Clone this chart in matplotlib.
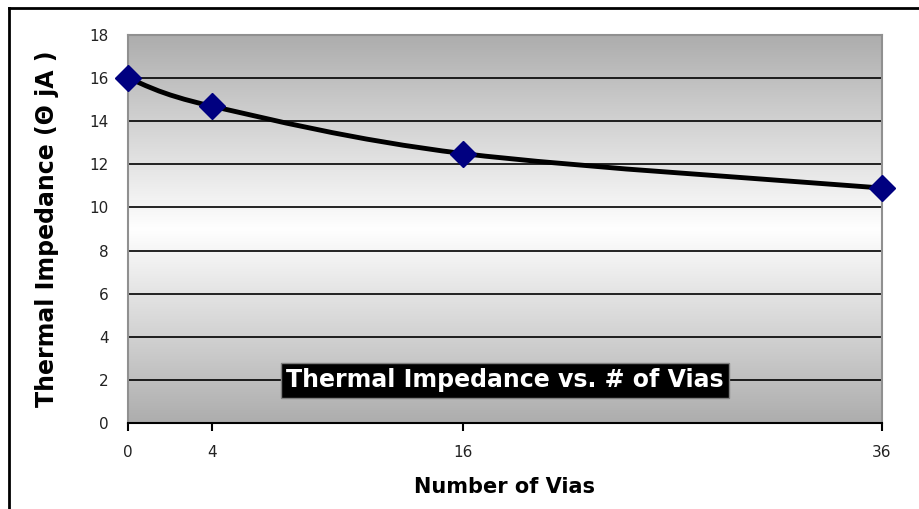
import matplotlib.pyplot as plt
import numpy as np
from matplotlib.colors import LinearSegmentedColormap
from matplotlib.path import Path
from matplotlib.patches import PathPatch

# data
vias = [0, 4, 16, 36]
impedance = [16.0, 14.7, 12.5, 10.9]
x_ticks = [0, 4, 16, 36]
y_ticks = [0, 2, 4, 6, 8, 10, 12, 14, 16, 18]

fig = plt.figure(figsize=(9.2, 5.09), dpi=100)
ax = fig.add_axes([128 / 920, 1 - 423 / 509, (882 - 128) / 920, (423 - 35) / 509])

# grey-white-grey gradient background of the plot area
cmap = LinearSegmentedColormap.from_list('bg', ['#ffffff', '#adadad'])
grad = np.abs(np.linspace(-1, 1, 256)).reshape(-1, 1)
ax.imshow(grad, cmap=cmap, vmin=0, vmax=1, aspect='auto',
          extent=[0, 36, 0, 18], zorder=0, interpolation='bicubic')

for y in y_ticks[1:-1]:
    ax.axhline(y, color='black', lw=1.2, zorder=1)

# smoothed line through the points (Excel style bezier)
pts = np.column_stack([vias, impedance])
ext = np.vstack([pts[0], pts, pts[-1]])
verts = [tuple(pts[0])]
codes = [Path.MOVETO]
for i in range(len(pts) - 1):
    p0, p1, p2, p3 = ext[i], ext[i + 1], ext[i + 2], ext[i + 3]
    verts += [tuple(p1 + (p2 - p0) / 6), tuple(p2 - (p3 - p1) / 6), tuple(p2)]
    codes += [Path.CURVE4] * 3
ax.add_patch(PathPatch(Path(verts, codes), facecolor='none', edgecolor='black',
                       lw=3.5, zorder=2))
ax.plot(vias, impedance, linestyle='none', marker='D', ms=13,
        color='#000080', zorder=3, clip_on=False)

ax.set_xlim(0, 36)
ax.set_ylim(0, 18)
ax.set_xticks(x_ticks)
ax.set_yticks(y_ticks)
ax.tick_params(axis='x', length=6, width=1.5, pad=10, labelsize=11, labelcolor='#222222')
ax.tick_params(axis='y', length=0, pad=14, labelsize=11, labelcolor='#222222')
for s in ['top', 'right', 'left']:
    ax.spines[s].set_color('#909090')
    ax.spines[s].set_linewidth(1.5)
ax.spines['bottom'].set_color('black')
ax.spines['bottom'].set_linewidth(1.5)

ax.set_xlabel('Number of Vias', fontsize=15, fontweight='bold', labelpad=12)
ax.set_ylabel('Thermal Impedance (Θ jA )', fontsize=17, fontweight='bold', labelpad=22)

ax.text(0.5, 0.11, 'Thermal Impedance vs. # of Vias', transform=ax.transAxes,
        ha='center', va='center', color='white', fontsize=17, fontweight='bold',
        bbox=dict(facecolor='black', edgecolor='#808080', pad=4), zorder=4)

# chart area border (top and left visible)
fig.add_artist(plt.Line2D([9 / 920, 1], [1 - 8 / 509, 1 - 8 / 509], color='black', lw=2))
fig.add_artist(plt.Line2D([9 / 920, 9 / 920], [0, 1 - 8 / 509], color='black', lw=2))

fig.savefig('out.png', dpi=100)
